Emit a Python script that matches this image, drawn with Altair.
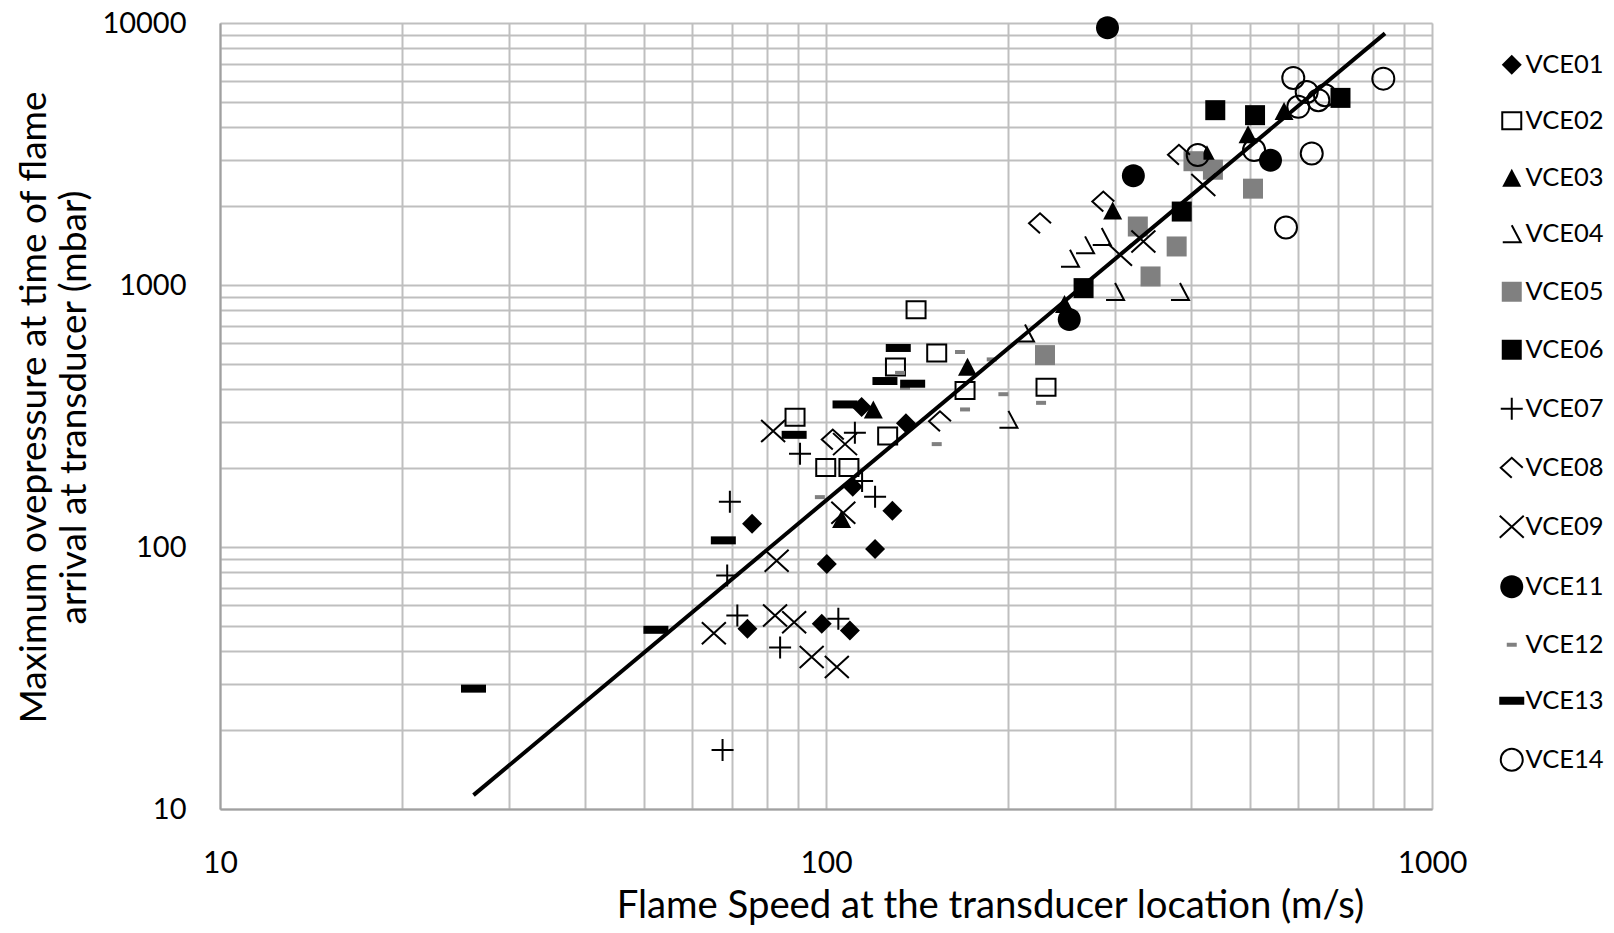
import altair as alt
import pandas as pd

series = ["VCE01", "VCE02", "VCE03", "VCE04", "VCE05", "VCE06", "VCE07",
          "VCE08", "VCE09", "VCE11", "VCE12", "VCE13", "VCE14"]

vce01_x = [75.5, 74.2, 100.3, 98.4, 109.5, 110.7, 120.5, 128.7, 114.5, 135.5]
vce01_y = [122.7, 48.7, 86.2, 50.9, 48.0, 169.7, 98.3, 137.5, 342, 297]

vce02_x = [140.8, 152.3, 130.2, 169.6, 88.9, 126.4, 99.9, 109.1, 230.7]
vce02_y = [805, 550, 486, 396, 313, 265, 201, 201, 407]

vce03_x = [119.7, 171.2, 106.1, 297.2, 247.5, 425.3, 497.1, 570]
vce03_y = [335, 488, 128, 1923, 847, 3155, 3759, 4619]

vce04_x = [200.0, 213.0, 252.7, 267.6, 285.1, 299.9, 383.8]
vce04_y = [307, 656, 1266, 1423, 1531, 945, 945]

vce05_x = [229.8, 327, 379, 343.2, 404, 435, 506.6]
vce05_y = [540, 1672, 1403, 1078, 2968, 2754, 2332]

vce06_x = [266.1, 386.4, 438.9, 510.5, 706.3]
vce06_y = [973, 1907, 4648, 4449, 5178]

vce07_x = [111.6, 90.6, 69.4, 68.7, 71.4, 84.0, 104.8, 67.5, 114.7, 120.5]
vce07_y = [273, 227, 149, 77.8, 54.8, 41.3, 53.2, 16.8, 178.8, 155.4]

vce08_x = [102.6, 154.2, 225.5, 286.8, 382.3]
vce08_y = [257, 302, 1720, 2081, 3142]

vce09_x = [81.8, 107.5, 106.8, 82.9, 65.3, 82.4, 88.6, 94.7, 104.2, 305.6, 334, 419.4]
vce09_y = [277, 247, 135, 88.7, 46.9, 54.8, 51.6, 38.0, 34.8, 1304, 1466, 2409]

vce11_x = [291.4, 321.5, 252, 541.4]
vce11_y = [9588, 2614, 738, 2994]

vce12_x = [166.4, 187.7, 169.6, 196.2, 226.4, 152.3, 97.7, 132.5, 135.0]
vce12_y = [555, 520, 335, 383, 355, 247, 155, 462, 405]

vce13_x = [131.6, 125.1, 139.0, 107.5, 88.6, 67.7, 52.4, 26.2]
vce13_y = [575, 430, 420, 350, 268, 106, 48.3, 28.8]

vce14_x = [590.3, 621.2, 649.3, 601.7, 665.9, 831.1, 633.2, 574.2, 410.6, 508.6]
vce14_y = [6171, 5457, 5075, 4786, 5301, 6133, 3178, 1657, 3133, 3273]

line_x = [26.2, 836.5]
line_y = [11.3, 9129]

x_ticks = [10, 20, 30, 40, 50, 60, 70, 80, 90,
           100, 200, 300, 400, 500, 600, 700, 800, 900, 1000]
y_ticks = [10, 20, 30, 40, 50, 60, 70, 80, 90,
           100, 200, 300, 400, 500, 600, 700, 800, 900,
           1000, 2000, 3000, 4000, 5000, 6000, 7000, 8000, 9000, 10000]

all_x = [vce01_x, vce02_x, vce03_x, vce04_x, vce05_x, vce06_x, vce07_x,
         vce08_x, vce09_x, vce11_x, vce12_x, vce13_x, vce14_x]
all_y = [vce01_y, vce02_y, vce03_y, vce04_y, vce05_y, vce06_y, vce07_y,
         vce08_y, vce09_y, vce11_y, vce12_y, vce13_y, vce14_y]

rows = []
for s, xs, ys in zip(series, all_x, all_y):
    for a, b in zip(xs, ys):
        rows.append({"series": s, "speed": a, "pressure": b})
df = pd.DataFrame(rows)
line_df = pd.DataFrame({"speed": line_x, "pressure": line_y})

P_DIAMOND = "M0,-1L1,0L0,1L-1,0Z"
P_OSQUARE = "M-0.95,-0.85L0.95,-0.85L0.95,0.85L-0.95,0.85Z"
P_TRI = "M0,-0.9L0.95,0.9L-0.95,0.9Z"
P_VCE04 = "M0,-0.85L0.9,0.85L-0.9,0.85"
P_SQUARE = "M-1,-1L1,-1L1,1L-1,1Z"
P_PLUS = "M-1.1,0L1.1,0M0,-1.1L0,1.1"
P_VCE08 = "M1.1,0L0,-1L-1.1,0L0,1"
P_X = "M-1.2,-1.1L1.2,1.1M-1.2,1.1L1.2,-1.1"
P_CIRCLE = "M1.15,0A1.15,1.15,0,1,1,-1.15,0A1.15,1.15,0,1,1,1.15,0Z"
P_SDASH = "M-0.5,-0.2L0.5,-0.2L0.5,0.2L-0.5,0.2Z"
P_DASH = "M-1.25,-0.4L1.25,-0.4L1.25,0.4L-1.25,0.4Z"
P_OCIRCLE = "M1.1,0A1.1,1.1,0,1,1,-1.1,0A1.1,1.1,0,1,1,1.1,0Z"

shapes = [P_DIAMOND, P_OSQUARE, P_TRI, P_VCE04, P_SQUARE, P_SQUARE, P_PLUS,
          P_VCE08, P_X, P_CIRCLE, P_SDASH, P_DASH, P_OCIRCLE]
fills = ["black", "transparent", "black", "transparent", "#808080", "black",
         "transparent", "transparent", "transparent", "black", "#808080",
         "black", "transparent"]
strokes = ["transparent", "black", "transparent", "black", "transparent",
           "transparent", "black", "black", "black", "transparent",
           "transparent", "transparent", "black"]

FONT = "Lato"
legend = alt.Legend(orient="none", legendX=1279, legendY=29, title=None,
                    labelFont=FONT, labelFontSize=25.5, labelColor="black",
                    symbolSize=400, symbolStrokeWidth=2, rowPadding=29,
                    labelOffset=1, padding=0, symbolOpacity=1)

xscale = alt.Scale(type="log", domain=[10, 1000], nice=False)
yscale = alt.Scale(type="log", domain=[10, 10000], nice=False)

xaxis = alt.Axis(values=x_ticks, format="d",
                 labelExpr="(datum.value == 10 || datum.value == 100 || datum.value == 1000) ? datum.label : ''",
                 grid=True, gridColor="#bfbfbf", gridWidth=2, ticks=False,
                 domainColor="#a0a0a0", domainWidth=2,
                 labelFont=FONT, labelFontSize=30, labelColor="black", labelPadding=39,
                 labelFlush=False, labelOverlap=False,
                 title="Flame Speed at the transducer location (m/s)",
                 titleFont=FONT, titleFontSize=38.3, titleFontWeight="normal", titleColor="black",
                 titleX=770, titleY=97, titleBaseline="middle", titleAlign="center")

yaxis = alt.Axis(values=y_ticks, format="d",
                 labelExpr="(datum.value == 10 || datum.value == 100 || datum.value == 1000 || datum.value == 10000) ? datum.label : ''",
                 grid=True, gridColor="#bfbfbf", gridWidth=2, ticks=False,
                 domainColor="#a0a0a0", domainWidth=2,
                 labelFont=FONT, labelFontSize=29, labelColor="black", labelPadding=34,
                 labelFlush=False, labelOverlap=False,
                 title=["Maximum ovepressure at time of flame", "arrival at transducer  (mbar)"],
                 titleFont=FONT, titleFontSize=37, titleFontWeight="normal", titleColor="black",
                 titleLineHeight=40, titleAngle=-90,
                 titleX=-186, titleY=384, titleBaseline="middle", titleAlign="center")

points = alt.Chart(df).mark_point(size=400, strokeWidth=2, opacity=1).encode(
    x=alt.X("speed:Q", scale=xscale, axis=xaxis),
    y=alt.Y("pressure:Q", scale=yscale, axis=yaxis),
    shape=alt.Shape("series:N", scale=alt.Scale(domain=series, range=shapes), legend=legend),
    fill=alt.Fill("series:N", scale=alt.Scale(domain=series, range=fills), legend=legend),
    stroke=alt.Stroke("series:N", scale=alt.Scale(domain=series, range=strokes), legend=legend),
)

fit = alt.Chart(line_df).mark_line(color="black", strokeWidth=4).encode(
    x=alt.X("speed:Q", scale=xscale),
    y=alt.Y("pressure:Q", scale=yscale),
)

chart = alt.layer(points, fit).properties(
    width=1212, height=786,
    autosize=alt.AutoSizeParams(type="none"),
    padding={"left": 212, "top": 15, "right": 174, "bottom": 116},
).configure_view(stroke=None).configure(background="white")

chart.save("out.html", embed_options={"renderer": "svg", "actions": False})
